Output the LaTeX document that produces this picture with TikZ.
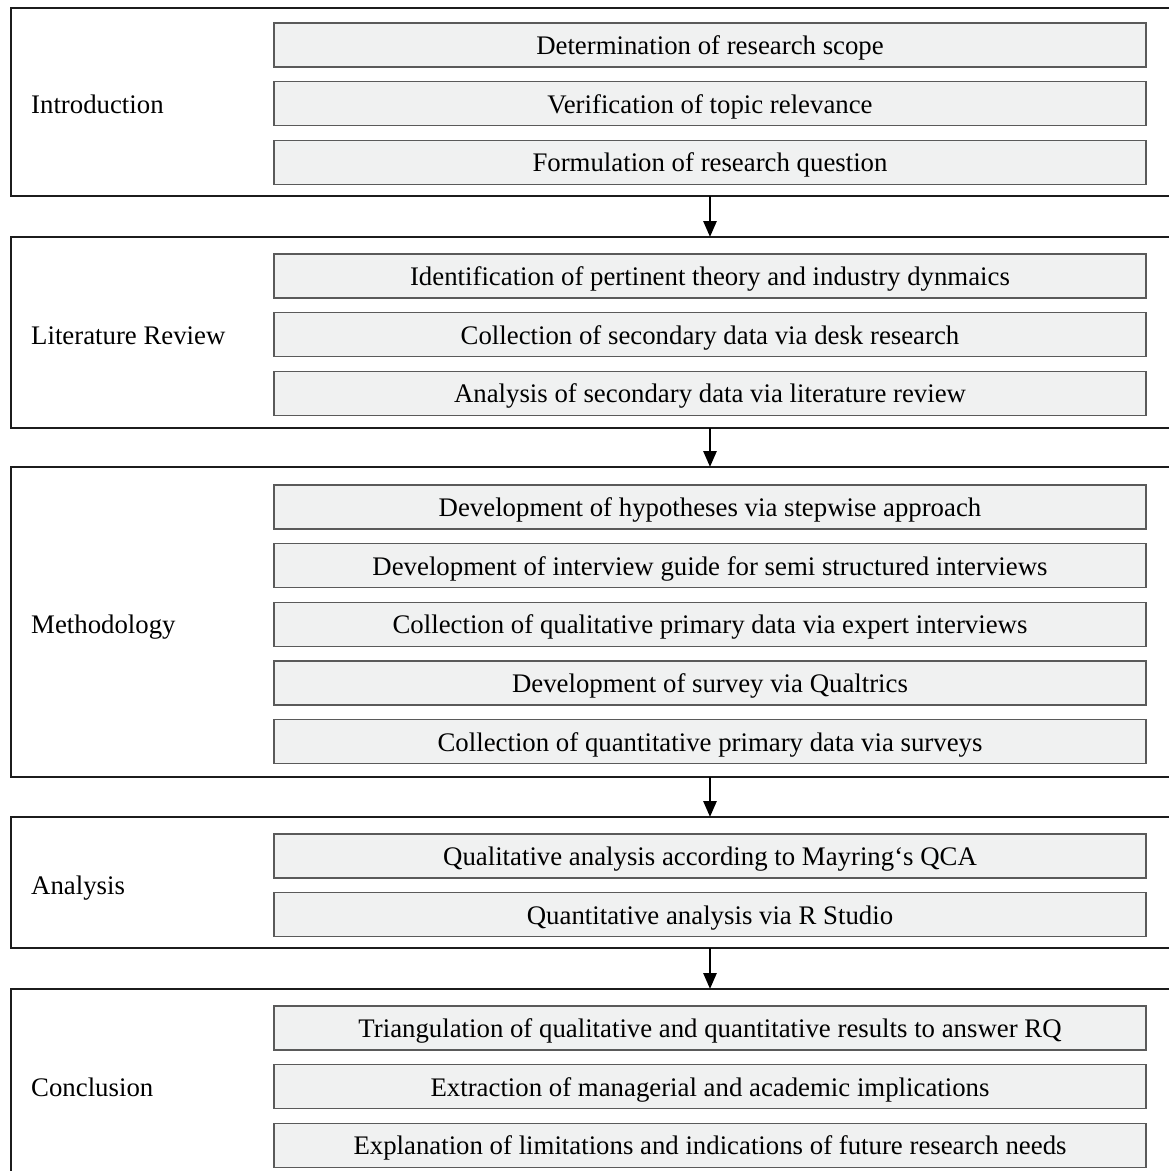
\documentclass[tikz,border=0pt]{standalone}
\usepackage{fontspec}
\setmainfont{Liberation Serif}
\usepackage{tikz}
\usetikzlibrary{positioning,arrows.meta}
\usepackage{xcolor}
\definecolor{stepfill}{HTML}{F0F1F1}
\definecolor{stepline}{HTML}{5A5A5A}
\definecolor{phaseline}{HTML}{1C1C1C}

\begin{document}
\begin{tikzpicture}[x=1pt, y=-1pt, >={Triangle[length=16pt,width=13pt]}, font=\fontsize{26.8}{32}\selectfont,
        phase/.style={draw=phaseline, line width=2.2pt, minimum width=1250pt, anchor=north west, inner sep=0pt, outer sep=0pt},
        stepbox/.style={draw=stepline, fill=stepfill, line width=1.3pt, minimum width=872pt, minimum height=44pt, inner sep=0pt, outer sep=0pt, text height=20pt, text depth=1.3pt},
        title/.style={anchor=west, inner sep=0pt, xshift=20pt, yshift=-2.5pt, text height=20pt, text depth=1.3pt},
        flow/.style={->, line width=2.8pt}]
        \useasboundingbox (0,0) rectangle (1169,1171);
        \clip (0,0) rectangle (1169,1171);

        % phases
        \node[phase, minimum height=188pt] (intro) at (11,8) {};
        \node[phase, minimum height=191pt] (lit) at (11,237) {};
        \node[phase, minimum height=310pt] (meth) at (11,467) {};
        \node[phase, minimum height=131pt] (ana) at (11,817) {};
        \node[phase, minimum height=192pt] (conc) at (11,989) {};

        \node[title] at (intro.west) {Introduction};
        \node[title] at (lit.west) {Literature Review};
        \node[title] at (meth.west) {Methodology};
        \node[title] at (ana.west) {Analysis};
        \node[title] at (conc.west) {Conclusion};

        % steps
        \node[stepbox] (i1) at (710,45) {Determination of research scope};
        \node[stepbox] (i2) [below=14.7pt of i1] {Verification of topic relevance};
        \node[stepbox] (i3) [below=14.7pt of i2] {Formulation of research question};

        \node[stepbox] (l1) at (710,276) {Identification of pertinent theory and industry dynmaics};
        \node[stepbox] (l2) [below=14.7pt of l1] {Collection of secondary data via desk research};
        \node[stepbox] (l3) [below=14.7pt of l2] {Analysis of secondary data via literature review};

        \node[stepbox] (m1) at (710,507) {Development of hypotheses via stepwise approach};
        \node[stepbox] (m2) [below=14.7pt of m1] {Development of interview guide for semi structured interviews};
        \node[stepbox] (m3) [below=14.7pt of m2] {Collection of qualitative primary data via expert interviews};
        \node[stepbox] (m4) [below=14.7pt of m3] {Development of survey via Qualtrics};
        \node[stepbox] (m5) [below=14.7pt of m4] {Collection of quantitative primary data via surveys};

        \node[stepbox] (a1) at (710,856) {Qualitative analysis according to Mayring‘s QCA};
        \node[stepbox] (a2) [below=14.7pt of a1] {Quantitative analysis via R Studio};

        \node[stepbox] (c1) at (710,1028) {Triangulation of qualitative and quantitative results to answer RQ};
        \node[stepbox] (c2) [below=14.7pt of c1] {Extraction of managerial and academic implications};
        \node[stepbox] (c3) [below=14.7pt of c2] {Explanation of limitations and indications of future research needs};

        \draw[flow] (intro.south -| i3.south) -- (lit.north -| l1.north);
        \draw[flow] (lit.south -| l3.south) -- (meth.north -| m1.north);
        \draw[flow] (meth.south -| m5.south) -- (ana.north -| a1.north);
        \draw[flow] (ana.south -| a2.south) -- (conc.north -| c1.north);
    \end{tikzpicture}
\end{document}
